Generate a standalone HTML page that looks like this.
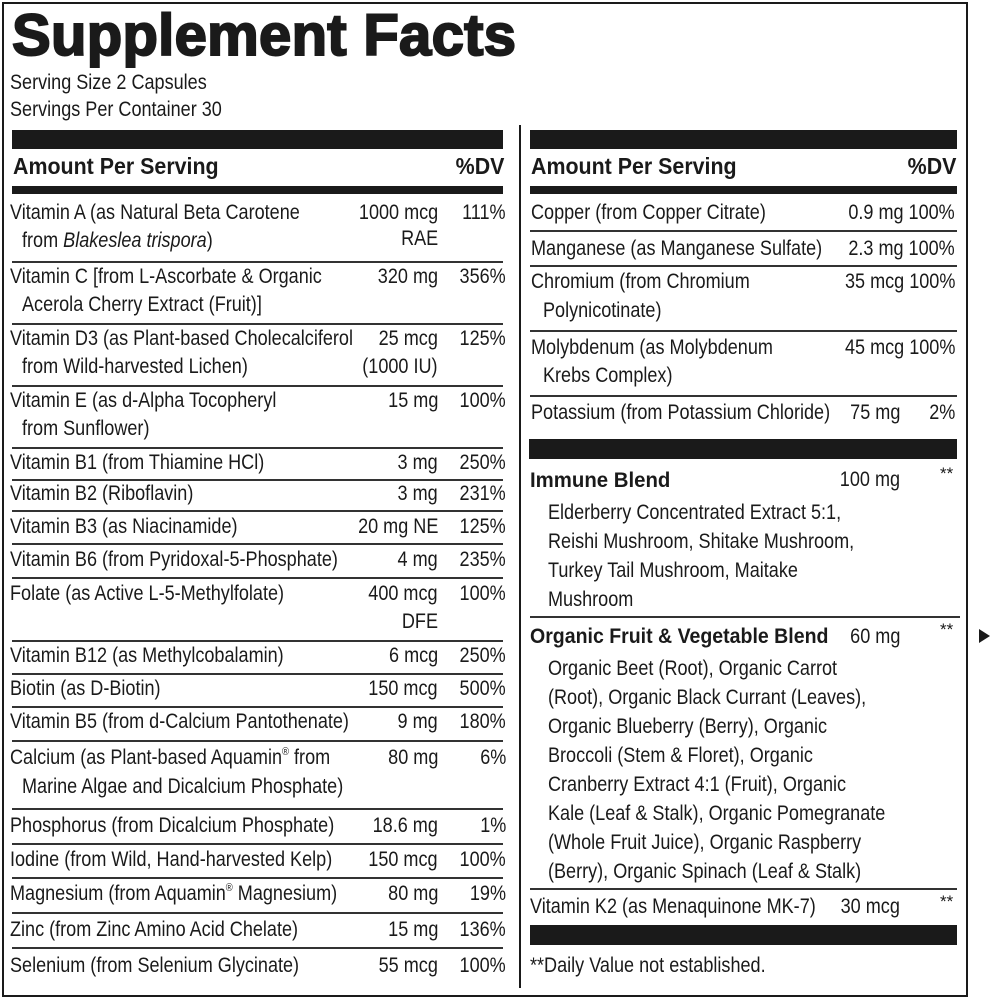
<!DOCTYPE html>
<html><head><meta charset="utf-8"><style>
body{margin:0;background:#fff;width:1000px;height:1000px;position:relative;overflow:hidden;color:#1a1a1a}
.t{position:absolute;font-family:"Liberation Sans",sans-serif;font-size:21px;line-height:24px;white-space:nowrap;transform:scaleX(.86);transform-origin:left top}
.r{text-align:right;transform-origin:right top}
.b{font-weight:bold}
.bar{position:absolute;background:#1a1a1a}
.ln{position:absolute;height:1.5px;background:#333}
sup{font-size:11px;line-height:0;vertical-align:9px}
</style></head><body>
<div class="bar" style="left:2px;top:2px;width:966px;height:2px"></div>
<div class="bar" style="left:2px;top:995px;width:966px;height:2px"></div>
<div class="bar" style="left:2px;top:2px;width:2px;height:995px"></div>
<div class="bar" style="left:966px;top:2px;width:2px;height:995px"></div>
<div class="bar" style="left:519px;top:125px;width:2px;height:863px"></div>

<div class="t b" style="left:12px;top:4px;font-size:58px;line-height:64px;letter-spacing:0.3px;transform:scaleX(1.0);-webkit-text-stroke:2px #1a1a1a">Supplement Facts</div>
<div class="t" style="left:10px;top:71px">Serving Size 2 Capsules</div>
<div class="t" style="left:10px;top:98px">Servings Per Container 30</div>

<!-- left column -->
<div class="bar" style="left:12px;top:130px;width:491px;height:19px"></div>
<div class="t b" style="left:13px;top:153px;font-size:23px;line-height:26px;transform:scaleX(.93)">Amount Per Serving</div>
<div class="t b r" style="right:496px;top:153px;font-size:23px;line-height:26px;transform:scaleX(.93)">%DV</div>
<div class="bar" style="left:12px;top:186px;width:491px;height:8px"></div>

<div class="t" style="left:10px;top:201px">Vitamin A (as Natural Beta Carotene</div>
<div class="t" style="left:22px;top:229px">from <i>Blakeslea trispora</i>)</div>
<div class="t r" style="right:562px;top:201px">1000 mcg<br><span style="line-height:28px">RAE</span></div>
<div class="t r" style="right:494px;top:201px">111%</div>
<div class="ln" style="left:12px;top:261px;width:491px"></div>

<div class="t" style="left:10px;top:265px">Vitamin C [from L-Ascorbate &amp; Organic</div>
<div class="t" style="left:22px;top:293px">Acerola Cherry Extract (Fruit)]</div>
<div class="t r" style="right:562px;top:265px">320 mg</div>
<div class="t r" style="right:494px;top:265px">356%</div>
<div class="ln" style="left:12px;top:323px;width:491px"></div>

<div class="t" style="left:10px;top:327px">Vitamin D3 (as Plant-based Cholecalciferol</div>
<div class="t" style="left:22px;top:355px">from Wild-harvested Lichen)</div>
<div class="t r" style="right:562px;top:327px">25 mcg</div>
<div class="t r" style="right:562px;top:355px">(1000 IU)</div>
<div class="t r" style="right:494px;top:327px">125%</div>
<div class="ln" style="left:12px;top:385px;width:491px"></div>

<div class="t" style="left:10px;top:389px">Vitamin E (as d-Alpha Tocopheryl</div>
<div class="t" style="left:22px;top:417px">from Sunflower)</div>
<div class="t r" style="right:562px;top:389px">15 mg</div>
<div class="t r" style="right:494px;top:389px">100%</div>
<div class="ln" style="left:12px;top:447px;width:491px"></div>

<div class="t" style="left:10px;top:451px">Vitamin B1 (from Thiamine HCl)</div>
<div class="t r" style="right:562px;top:451px">3 mg</div>
<div class="t r" style="right:494px;top:451px">250%</div>
<div class="ln" style="left:12px;top:479px;width:491px"></div>

<div class="t" style="left:10px;top:482px">Vitamin B2 (Riboflavin)</div>
<div class="t r" style="right:562px;top:482px">3 mg</div>
<div class="t r" style="right:494px;top:482px">231%</div>
<div class="ln" style="left:12px;top:510px;width:491px"></div>

<div class="t" style="left:10px;top:515px">Vitamin B3 (as Niacinamide)</div>
<div class="t r" style="right:562px;top:515px">20 mg NE</div>
<div class="t r" style="right:494px;top:515px">125%</div>
<div class="ln" style="left:12px;top:543px;width:491px"></div>

<div class="t" style="left:10px;top:548px">Vitamin B6 (from Pyridoxal-5-Phosphate)</div>
<div class="t r" style="right:562px;top:548px">4 mg</div>
<div class="t r" style="right:494px;top:548px">235%</div>
<div class="ln" style="left:12px;top:577px;width:491px"></div>

<div class="t" style="left:10px;top:582px">Folate (as Active L-5-Methylfolate)</div>
<div class="t r" style="right:562px;top:582px">400 mcg</div>
<div class="t r" style="right:562px;top:610px">DFE</div>
<div class="t r" style="right:494px;top:582px">100%</div>
<div class="ln" style="left:12px;top:640px;width:491px"></div>

<div class="t" style="left:10px;top:644px">Vitamin B12 (as Methylcobalamin)</div>
<div class="t r" style="right:562px;top:644px">6 mcg</div>
<div class="t r" style="right:494px;top:644px">250%</div>
<div class="ln" style="left:12px;top:673px;width:491px"></div>

<div class="t" style="left:10px;top:677px">Biotin (as D-Biotin)</div>
<div class="t r" style="right:562px;top:677px">150 mcg</div>
<div class="t r" style="right:494px;top:677px">500%</div>
<div class="ln" style="left:12px;top:706px;width:491px"></div>

<div class="t" style="left:10px;top:710px">Vitamin B5 (from d-Calcium Pantothenate)</div>
<div class="t r" style="right:562px;top:710px">9 mg</div>
<div class="t r" style="right:494px;top:710px">180%</div>
<div class="ln" style="left:12px;top:740px;width:491px"></div>

<div class="t" style="left:10px;top:746px">Calcium (as Plant-based Aquamin<sup>®</sup> from</div>
<div class="t" style="left:22px;top:775px">Marine Algae and Dicalcium Phosphate)</div>
<div class="t r" style="right:562px;top:746px">80 mg</div>
<div class="t r" style="right:494px;top:746px">6%</div>
<div class="ln" style="left:12px;top:808px;width:491px"></div>

<div class="t" style="left:10px;top:814px">Phosphorus (from Dicalcium Phosphate)</div>
<div class="t r" style="right:562px;top:814px">18.6 mg</div>
<div class="t r" style="right:494px;top:814px">1%</div>
<div class="ln" style="left:12px;top:843px;width:491px"></div>

<div class="t" style="left:10px;top:848px">Iodine (from Wild, Hand-harvested Kelp)</div>
<div class="t r" style="right:562px;top:848px">150 mcg</div>
<div class="t r" style="right:494px;top:848px">100%</div>
<div class="ln" style="left:12px;top:877px;width:491px"></div>

<div class="t" style="left:10px;top:882px">Magnesium (from Aquamin<sup>®</sup> Magnesium)</div>
<div class="t r" style="right:562px;top:882px">80 mg</div>
<div class="t r" style="right:494px;top:882px">19%</div>
<div class="ln" style="left:12px;top:912px;width:491px"></div>

<div class="t" style="left:10px;top:918px">Zinc (from Zinc Amino Acid Chelate)</div>
<div class="t r" style="right:562px;top:918px">15 mg</div>
<div class="t r" style="right:494px;top:918px">136%</div>
<div class="ln" style="left:12px;top:947px;width:491px"></div>

<div class="t" style="left:10px;top:954px">Selenium (from Selenium Glycinate)</div>
<div class="t r" style="right:562px;top:954px">55 mcg</div>
<div class="t r" style="right:494px;top:954px">100%</div>

<!-- right column -->
<div class="bar" style="left:530px;top:130px;width:427px;height:19px"></div>
<div class="t b" style="left:531px;top:153px;font-size:23px;line-height:26px;transform:scaleX(.93)">Amount Per Serving</div>
<div class="t b r" style="right:44px;top:153px;font-size:23px;line-height:26px;transform:scaleX(.93)">%DV</div>
<div class="bar" style="left:530px;top:186px;width:427px;height:8px"></div>

<div class="t" style="left:531px;top:201px">Copper (from Copper Citrate)</div>
<div class="t r" style="right:45px;top:201px">0.9 mg 100%</div>
<div class="ln" style="left:530px;top:230px;width:427px"></div>
<div class="t" style="left:531px;top:237px">Manganese (as Manganese Sulfate)</div>
<div class="t r" style="right:45px;top:237px">2.3 mg 100%</div>
<div class="ln" style="left:530px;top:265px;width:427px"></div>
<div class="t" style="left:531px;top:270px">Chromium (from Chromium</div>
<div class="t" style="left:543px;top:299px">Polynicotinate)</div>
<div class="t r" style="right:45px;top:270px">35 mcg 100%</div>
<div class="ln" style="left:530px;top:330px;width:427px"></div>
<div class="t" style="left:531px;top:336px">Molybdenum (as Molybdenum</div>
<div class="t" style="left:543px;top:364px">Krebs Complex)</div>
<div class="t r" style="right:45px;top:336px">45 mcg 100%</div>
<div class="ln" style="left:530px;top:395px;width:427px"></div>
<div class="t" style="left:531px;top:401px">Potassium (from Potassium Chloride)</div>
<div class="t r" style="right:100px;top:401px">75 mg</div>
<div class="t r" style="right:45px;top:401px">2%</div>
<div class="bar" style="left:529px;top:439px;width:428px;height:20px"></div>

<div class="t b" style="left:530px;top:469px;transform:scaleX(.97)">Immune Blend</div>
<div class="t r" style="right:100px;top:468px">100 mg</div>
<div class="t" style="left:940px;top:462px;font-size:17px;transform:none">**</div>
<div class="t" style="left:548px;top:498px;line-height:29px">Elderberry Concentrated Extract 5:1,<br>Reishi Mushroom, Shitake Mushroom,<br>Turkey Tail Mushroom, Maitake<br>Mushroom</div>
<div class="ln" style="left:530px;top:616px;width:430px"></div>

<div class="t b" style="left:530px;top:625px;transform:scaleX(.93)">Organic Fruit &amp; Vegetable Blend</div>
<div class="t r" style="right:100px;top:625px">60 mg</div>
<div class="t" style="left:940px;top:618px;font-size:17px;transform:none">**</div>
<div class="t" style="left:548px;top:654px;line-height:29px">Organic Beet (Root), Organic Carrot<br>(Root), Organic Black Currant (Leaves),<br>Organic Blueberry (Berry), Organic<br>Broccoli (Stem &amp; Floret), Organic<br>Cranberry Extract 4:1 (Fruit), Organic<br>Kale (Leaf &amp; Stalk), Organic Pomegranate<br>(Whole Fruit Juice), Organic Raspberry<br>(Berry), Organic Spinach (Leaf &amp; Stalk)</div>
<div class="ln" style="left:530px;top:888px;width:427px"></div>
<div class="t" style="left:530px;top:895px">Vitamin K2 (as Menaquinone MK-7)</div>
<div class="t r" style="right:100px;top:895px">30 mcg</div>
<div class="t" style="left:940px;top:890px;font-size:17px;transform:none">**</div>
<div class="bar" style="left:530px;top:925px;width:427px;height:20px"></div>
<div class="t" style="left:530px;top:954px">**Daily Value not established.</div>

<div style="position:absolute;left:979px;top:629px;width:0;height:0;border-top:7px solid transparent;border-bottom:7px solid transparent;border-left:11px solid #1a1a1a"></div>
</body></html>
